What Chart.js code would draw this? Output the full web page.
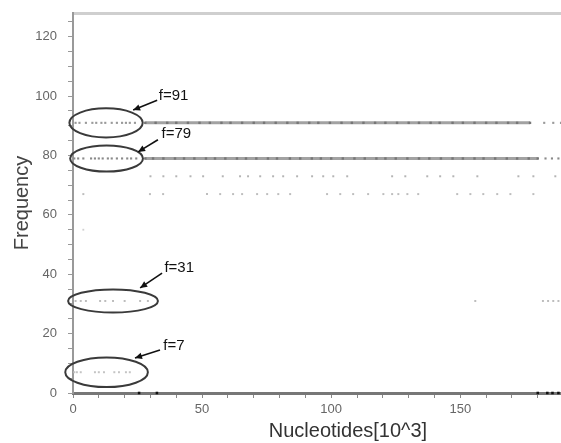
<!DOCTYPE html>
<html><head><meta charset="utf-8">
<script src="https://cdn.jsdelivr.net/npm/chart.js@4/dist/chart.umd.min.js"></script>
<style>html,body{margin:0;padding:0;background:#fff;overflow:hidden}canvas{display:block}</style>
</head><body>
<canvas id="c" width="561" height="443"></canvas>
<script>
// ---- data (x in 10^3 nucleotides, grouped by frequency row) ----
const freq91Band = [28, 32, 36.5, 40, 44.5, 49, 53, 57.5, 61, 65.5, 70, 74, 78.5, 83, 87, 91.5, 95, 99.5, 104, 108, 112.5, 117, 121, 125.5, 130, 134, 138.5, 142, 147, 151, 155.5, 160, 164, 168.5, 172, 177];
const freq91Marks = [1, 2.5, 5, 7.5, 9, 11, 12.5, 15, 17, 19, 20.5, 22, 24, 182.5, 186, 189];
const freq79Band = [28, 31, 35, 39.5, 43, 47, 51.5, 55, 59, 63.5, 67, 71, 75.5, 79, 84, 88, 92.5, 96, 100, 104.5, 109, 113, 117.5, 121, 125, 129.5, 134, 138, 142.5, 147, 151, 155.5, 159, 163.5, 168, 172, 176.5, 180];
const freq79Marks = [0.5, 2, 4, 7, 8.5, 10, 11.5, 13.5, 15, 17, 19, 21, 22.5, 24.5, 183, 185.5, 188];
const freq73 = [30, 35, 40, 45.5, 50.4, 58, 64.7, 67.8, 72.5, 77.5, 81.4, 86.8, 92.6, 96.9, 100.8, 106.2, 123.6, 128.7, 137.2, 142.2, 147.3, 156.6, 172.5, 178.3, 186.8];
const freq67 = [4, 29.8, 34.9, 51.9, 57, 62, 65.5, 71.3, 75.2, 79.5, 84.1, 98.4, 103.5, 108.5, 114.3, 120.2, 123.6, 126, 129.5, 133.7, 148.8, 153.9, 158.9, 164.3, 169.4, 178.3];
const freq55 = [4];
const freq31 = [1, 3, 5, 10.5, 12.5, 15.5, 20, 26, 29, 155.8, 182, 184, 186, 188];
const freq7 = [0.5, 1.5, 3, 8.5, 10, 12, 16, 17.8, 20.5, 22];
const freq0 = [25.6, 32.5, 180, 183.7, 185.7, 188];

const xTickLabels = [0, 50, 100, 150];
const yTickLabels = [0, 20, 40, 60, 80, 100, 120];

// annotation labels (text) with the frequency they point at
const annotLabels = ['f=91', 'f=79', 'f=31', 'f=7'];
const annotFreqs = [91, 79, 31, 7];

// ---- build datasets ----
const pts = (xs, y) => xs.map(x => ({x, y}));
const FONT = "'Liberation Sans', Arial, sans-serif";
const dotDS = (xs, y, color, r) => ({
  data: pts(xs, y), showLine: false, pointStyle: 'rect',
  pointRadius: r, pointBorderWidth: 0, backgroundColor: color, borderColor: color, clip: false
});
const bandDS = (xs, y) => ({
  data: pts(xs, y), showLine: true, borderColor: '#a2a2a2', borderWidth: 3,
  pointStyle: 'rect', pointRadius: 1.7, pointBorderWidth: 0, backgroundColor: '#777', clip: false
});
const datasets = [
  bandDS(freq91Band, 91), dotDS(freq91Marks, 91, '#9a9a9a', 1.5),
  bandDS(freq79Band, 79), dotDS(freq79Marks, 79, '#8a8a8a', 1.5),
  dotDS(freq73, 73, '#b4b4b4', 1.4),
  dotDS(freq67, 67, '#bdbdbd', 1.4),
  dotDS(freq55, 55, '#d0d0d0', 1.3),
  dotDS(freq31, 31, '#bcbcbc', 1.4),
  dotDS(freq7, 7, '#c4c4c4', 1.4),
  dotDS(freq0, 0, '#111111', 1.8)
];

// ---- annotation geometry (data units) ----
const ellipses = [
  {cx: 12.8, cy: 91, rx: 14.2, ry: 4.9},
  {cx: 13.0, cy: 79, rx: 14.1, ry: 4.4},
  {cx: 15.5, cy: 31, rx: 17.4, ry: 3.9},
  {cx: 13.0, cy: 7, rx: 16.0, ry: 5.0}
];
const labelPos = [
  {x: 33.2, y: 100, ax: 32.6, ay: 98.6, bx: 23.3, by: 95.3},
  {x: 34.3, y: 87.3, ax: 32.9, ay: 85.3, bx: 25.2, by: 81.2},
  {x: 35.4, y: 42.1, ax: 34.5, ay: 40.4, bx: 26.0, by: 35.4},
  {x: 35.0, y: 15.8, ax: 33.7, ay: 14.5, bx: 24.0, by: 11.8}
];

const annotPlugin = {
  id: 'annot',
  afterDatasetsDraw(chart) {
    const {ctx, scales: {x, y}} = chart;
    ctx.save();
    ellipses.forEach(e => {
      const cx = x.getPixelForValue(e.cx), cy = y.getPixelForValue(e.cy);
      const rx = Math.abs(x.getPixelForValue(e.cx + e.rx) - cx);
      const ry = Math.abs(y.getPixelForValue(e.cy + e.ry) - cy);
      ctx.beginPath();
      ctx.ellipse(cx, cy, rx, ry, 0, 0, Math.PI * 2);
      ctx.lineWidth = 2; ctx.strokeStyle = '#3a3a3a'; ctx.stroke();
    });
    annotLabels.forEach((t, i) => {
      const p = labelPos[i];
      ctx.font = '15px ' + FONT; ctx.fillStyle = '#111';
      ctx.textBaseline = 'middle'; ctx.textAlign = 'left';
      ctx.fillText(t, x.getPixelForValue(p.x), y.getPixelForValue(p.y));
      const ax = x.getPixelForValue(p.ax), ay = y.getPixelForValue(p.ay);
      const bx = x.getPixelForValue(p.bx), by = y.getPixelForValue(p.by);
      ctx.beginPath(); ctx.moveTo(ax, ay); ctx.lineTo(bx, by);
      ctx.lineWidth = 1.6; ctx.strokeStyle = '#111'; ctx.stroke();
      const ang = Math.atan2(by - ay, bx - ax), L = 7, W = 3.2;
      ctx.beginPath();
      ctx.moveTo(bx, by);
      ctx.lineTo(bx - L * Math.cos(ang) + W * Math.sin(ang), by - L * Math.sin(ang) - W * Math.cos(ang));
      ctx.lineTo(bx - L * Math.cos(ang) - W * Math.sin(ang), by - L * Math.sin(ang) + W * Math.cos(ang));
      ctx.closePath(); ctx.fillStyle = '#111'; ctx.fill();
    });
    // x axis title
    ctx.font = '20px ' + FONT; ctx.fillStyle = '#333';
    ctx.textAlign = 'center'; ctx.textBaseline = 'middle';
    ctx.fillText('Nucleotides[10^3]', x.getPixelForValue(106.5), chart.height - 12);
    ctx.restore();
  }
};

new Chart(document.getElementById('c'), {
  type: 'scatter',
  data: {datasets},
  plugins: [annotPlugin],
  options: {
    responsive: false, animation: false, devicePixelRatio: 1,
    layout: {autoPadding: false, padding: {top: 13, right: 0, left: 0, bottom: 0}},
    plugins: {legend: {display: false}, tooltip: {enabled: false}},
    scales: {
      x: {
        type: 'linear', position: 'bottom', min: 0, max: 189,
        ticks: {stepSize: 10, includeBounds: false, padding: 4, color: '#666', font: {size: 13, family: FONT},
          maxRotation: 0, autoSkip: false,
          callback: v => xTickLabels.includes(v) ? String(v) : ''},
        grid: {drawOnChartArea: false, tickLength: 5, color: '#888'},
        border: {color: '#777', width: 3},
        afterFit: s => { s.height = 50; s.paddingLeft = 0; s.paddingRight = 0; }
      },
      x2: {
        type: 'linear', position: 'top', min: 0, max: 189,
        ticks: {display: false},
        grid: {drawOnChartArea: false, drawTicks: false},
        border: {color: '#cfcfcf', width: 3},
        afterFit: s => { s.height = 0; s.paddingLeft = 0; s.paddingRight = 0; }
      },
      y: {
        type: 'linear', min: 0, max: 128,
        ticks: {stepSize: 5, includeBounds: false, padding: 11, color: '#666', font: {size: 13, family: FONT},
          autoSkip: false,
          callback: v => yTickLabels.includes(v) ? String(v) : ''},
        grid: {drawOnChartArea: false, tickLength: 5, color: '#999'},
        border: {color: '#999', width: 2},
        title: {display: true, text: 'Frequency', color: '#444', font: {size: 20, family: FONT}, padding: {top: 10, bottom: 0}},
        afterFit: s => { s.width = 73; s.paddingTop = 0; s.paddingBottom = 0; }
      }
    }
  }
});
</script>
</body></html>
